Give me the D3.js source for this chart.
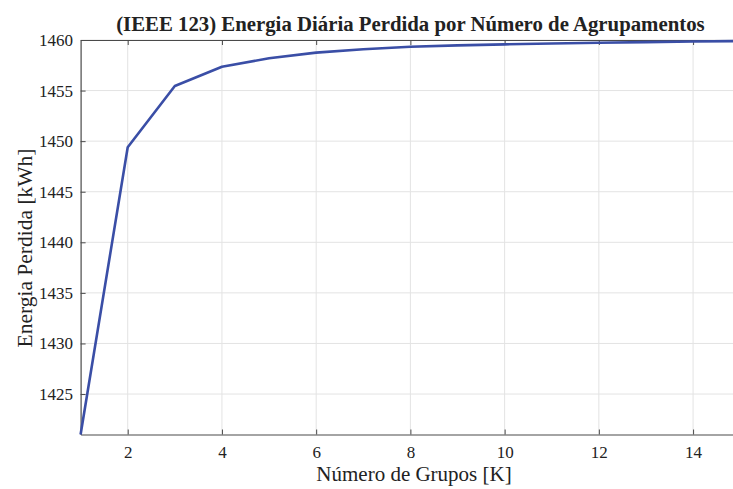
<!DOCTYPE html>
<html>
<head>
<meta charset="utf-8">
<script src="https://cdn.jsdelivr.net/npm/d3@7"></script>
<style>
  html, body { margin: 0; padding: 0; background: #fff; }
  svg { display: block; }
  text { font-family: "Liberation Serif", "Times New Roman", serif; fill: #222; }
</style>
</head>
<body>
<svg id="chart" width="733" height="489"></svg>
<script>
// Energy lost per day versus number of clusters (IEEE 123 feeder)
const groups = [1, 2, 3, 4, 5, 6, 7, 8, 9, 10, 11, 12, 13, 14, 15];
const energyLost = [1421.0, 1449.4, 1455.45, 1457.35, 1458.2, 1458.75, 1459.08, 1459.33, 1459.47, 1459.57, 1459.66, 1459.73, 1459.79, 1459.85, 1459.9];
const xTicks = [2, 4, 6, 8, 10, 12, 14];
const yTicks = [1425, 1430, 1435, 1440, 1445, 1450, 1455, 1460];

const serif = '"Liberation Serif", "Times New Roman", serif';
const svg = d3.select("#chart");
const plotLeft = 80.6, plotRight = 740.2, plotTop = 40, plotBottom = 434.5;

const x = d3.scaleLinear().domain([1, 15]).range([plotLeft, plotRight]);
const y = d3.scaleLinear().domain([1421, 1460]).range([plotBottom, plotTop]);

// grid
const grid = svg.append("g").attr("stroke", "#e3e3e3").attr("stroke-width", 1);
grid.selectAll("line.gx").data(xTicks).join("line")
  .attr("x1", d => x(d)).attr("x2", d => x(d))
  .attr("y1", plotTop).attr("y2", plotBottom);
grid.selectAll("line.gy").data(yTicks).join("line")
  .attr("x1", plotLeft).attr("x2", plotRight)
  .attr("y1", d => y(d)).attr("y2", d => y(d));

// axes (ticks pointing inward)
const fmt = d3.format("d");
const xAxis = svg.append("g").attr("transform", `translate(0,${plotBottom})`)
  .call(d3.axisBottom(x).tickValues(xTicks).tickFormat(fmt).tickSizeInner(-5).tickSizeOuter(0).tickPadding(11.5));
const yAxis = svg.append("g").attr("transform", `translate(${plotLeft},0)`)
  .call(d3.axisLeft(y).tickValues(yTicks).tickFormat(fmt).tickSizeInner(-5).tickSizeOuter(0).tickPadding(7.5));
const xTop = svg.append("g").attr("transform", `translate(0,${plotTop})`)
  .call(d3.axisTop(x).tickValues(xTicks).tickSizeInner(-5).tickSizeOuter(0).tickFormat(""));

[xAxis, yAxis, xTop].forEach(g => {
  g.attr("font-family", serif).attr("font-size", 17);
  g.selectAll("path.domain").attr("stroke", "#4a4a4a").attr("stroke-width", 1.2);
  g.selectAll(".tick line").attr("stroke", "#4a4a4a").attr("stroke-width", 1);
  g.selectAll(".tick text").attr("fill", "#222");
});

// data line
svg.append("path")
  .datum(groups.map((g, i) => [g, energyLost[i]]))
  .attr("fill", "none")
  .attr("stroke", "#3a4ea6")
  .attr("stroke-width", 2.6)
  .attr("stroke-linejoin", "round")
  .attr("d", d3.line().x(d => x(d[0])).y(d => y(d[1])));

// title and labels
svg.append("text")
  .attr("x", (plotLeft + plotRight) / 2).attr("y", 31)
  .attr("text-anchor", "middle").attr("font-size", 20.8).attr("font-weight", "bold")
  .attr("fill", "#111")
  .text("(IEEE 123) Energia Diária Perdida por Número de Agrupamentos");

svg.append("text")
  .attr("x", 414).attr("y", 481)
  .attr("text-anchor", "middle").attr("font-size", 21)
  .text("Número de Grupos [K]");

svg.append("text")
  .attr("transform", "translate(32,248) rotate(-90)")
  .attr("text-anchor", "middle").attr("font-size", 21.5)
  .text("Energia Perdida [kWh]");
</script>
</body>
</html>
